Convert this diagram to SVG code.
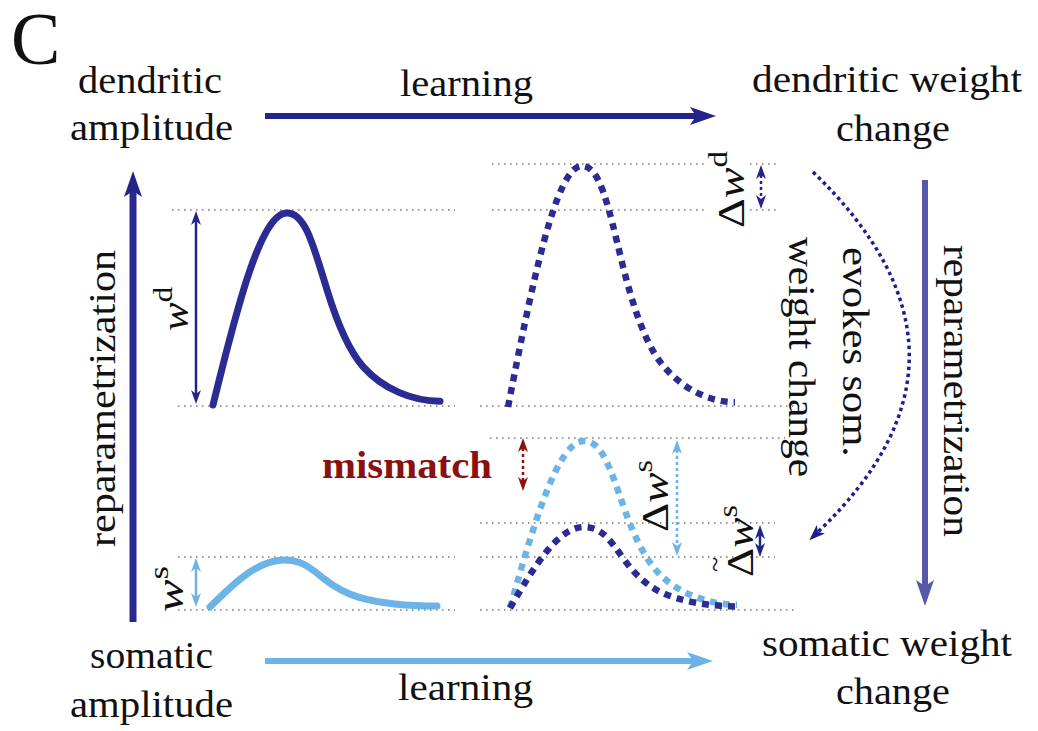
<svg xmlns="http://www.w3.org/2000/svg" width="1038" height="731" viewBox="0 0 1038 731">
<style>
text{font-family:"Liberation Serif","Times New Roman",serif;font-size:38px;fill:#111}
.grid{stroke:#7a7a7a;stroke-width:1.4;stroke-dasharray:1.5 4.5;fill:none}
.it{font-style:italic}
.sup{font-size:27px}
.solid{fill:none;stroke-width:7;stroke-linecap:round}
.dash{fill:none;stroke-width:6.5;stroke-dasharray:7 6}
.navy{stroke:#2b2b93}
.light{stroke:#6cb4e8}
</style>
<defs>
<marker id="hNavy" markerUnits="userSpaceOnUse" viewBox="0 0 26 20" markerWidth="26" markerHeight="20" refX="6" refY="10" orient="auto"><path d="M0,1 L26,10 L0,19 L6,10 z" fill="#23238c"/></marker>
<marker id="hLight" markerUnits="userSpaceOnUse" viewBox="0 0 26 20" markerWidth="26" markerHeight="20" refX="6" refY="10" orient="auto"><path d="M0,1 L26,10 L0,19 L6,10 z" fill="#6cb4e8"/></marker>
<marker id="hSlate" markerUnits="userSpaceOnUse" viewBox="0 0 26 20" markerWidth="26" markerHeight="20" refX="6" refY="10" orient="auto"><path d="M0,1 L26,10 L0,19 L6,10 z" fill="#5858a8"/></marker>
<marker id="hCurve" markerUnits="userSpaceOnUse" viewBox="0 0 16 12" markerWidth="16" markerHeight="12" refX="4" refY="6" orient="auto"><path d="M0,0 L16,6 L0,12 L4,6 z" fill="#1e1e8c"/></marker>
<marker id="sNavy" markerUnits="userSpaceOnUse" viewBox="0 0 14 10" markerWidth="14" markerHeight="10" refX="4" refY="5" orient="auto-start-reverse"><path d="M0,0 L14,5 L0,10 L4,5 z" fill="#23238c"/></marker>
<marker id="sLight" markerUnits="userSpaceOnUse" viewBox="0 0 14 10" markerWidth="14" markerHeight="10" refX="4" refY="5" orient="auto-start-reverse"><path d="M0,0 L14,5 L0,10 L4,5 z" fill="#6cb4e8"/></marker>
<marker id="sRed" markerUnits="userSpaceOnUse" viewBox="0 0 14 10" markerWidth="14" markerHeight="10" refX="4" refY="5" orient="auto-start-reverse"><path d="M0,0 L14,5 L0,10 L4,5 z" fill="#8b1010"/></marker>
</defs>

<g id="title"><text x="11" y="64" font-size="74" style="font-size:74px">C</text></g>

<g id="grid-lines">
<line class="grid" x1="492" y1="164" x2="707" y2="164"/>
<line class="grid" x1="750" y1="164" x2="780" y2="164"/>
<line class="grid" x1="172" y1="210" x2="455" y2="210"/>
<line class="grid" x1="492" y1="210" x2="705" y2="210"/>
<line class="grid" x1="750" y1="210" x2="780" y2="210"/>
<line class="grid" x1="178" y1="406" x2="455" y2="406"/>
<line class="grid" x1="480" y1="406" x2="800" y2="406"/>
<line class="grid" x1="490" y1="438" x2="785" y2="438"/>
<line class="grid" x1="480" y1="523" x2="775" y2="523"/>
<line class="grid" x1="178" y1="557" x2="455" y2="557"/>
<line class="grid" x1="480" y1="557" x2="775" y2="557"/>
<line class="grid" x1="178" y1="610" x2="455" y2="610"/>
<line class="grid" x1="480" y1="610" x2="795" y2="610"/>
</g>

<g id="node-dendritic-amplitude">
<text x="78" y="93" textLength="144" lengthAdjust="spacingAndGlyphs">dendritic</text>
<text x="70" y="140" textLength="163" lengthAdjust="spacingAndGlyphs">amplitude</text>
<path class="solid navy" d="M213,405 C237.4,305.5 261.1,213 287,213 C305,213 313,244.1 327,289.8 C339,329 351,353 363,366.6 C383,389.3 413,401.2 440,401.2"/>
<line x1="196" y1="221" x2="196" y2="394" stroke="#23238c" stroke-width="2.5" marker-start="url(#sNavy)" marker-end="url(#sNavy)"/>
<text transform="translate(188,331) rotate(-90)" textLength="44" lengthAdjust="spacingAndGlyphs"><tspan class="it">w</tspan><tspan class="sup" dy="-16">d</tspan></text>
</g>

<g id="node-somatic-amplitude">
<text x="90" y="668" textLength="123" lengthAdjust="spacingAndGlyphs">somatic</text>
<text x="70" y="717" textLength="163" lengthAdjust="spacingAndGlyphs">amplitude</text>
<path class="solid light" d="M210,607 C234.4,582.7 258.1,560 284,560 C302,560 310,567.6 324,578.8 C336,588.4 348,594.3 360,597.6 C380,603.1 410,606.1 437,606.1"/>
<line x1="196" y1="568" x2="196" y2="597" stroke="#6cb4e8" stroke-width="2.5" marker-start="url(#sLight)" marker-end="url(#sLight)"/>
<text transform="translate(183,612) rotate(-90)" textLength="46" lengthAdjust="spacingAndGlyphs"><tspan class="it">w</tspan><tspan class="sup" dy="-15">s</tspan></text>
</g>

<g id="node-dendritic-weight-change">
<text x="752" y="92" textLength="270" lengthAdjust="spacingAndGlyphs">dendritic weight</text>
<text x="836" y="141" textLength="114" lengthAdjust="spacingAndGlyphs">change</text>
<path class="dash navy" d="M508,407 C532.4,282.2 556.1,166 582,166 C600,166 608,205 622,262.4 C634,311.6 646,341.7 658,358.8 C678,387.2 708,402.2 735,402.2"/>
<line x1="761" y1="175" x2="761" y2="199" stroke="#23238c" stroke-width="2.5" stroke-dasharray="3 3" marker-start="url(#sNavy)" marker-end="url(#sNavy)"/>
<text transform="translate(744,228) rotate(-90)" textLength="77" lengthAdjust="spacingAndGlyphs">Δ<tspan class="it">w</tspan><tspan class="sup" dy="-17">d</tspan></text>
</g>

<g id="node-somatic-weight-change">
<text x="762" y="656" textLength="250" lengthAdjust="spacingAndGlyphs">somatic weight</text>
<text x="836" y="704" textLength="114" lengthAdjust="spacingAndGlyphs">change</text>
<path class="dash light" d="M510,608 C534.4,521.5 558.1,441 584,441 C602,441 610,468 624,507.8 C636,541.9 648,562.7 660,574.6 C680,594.3 710,604.7 737,604.7"/>
<path class="dash navy" d="M510,608 C534.4,566 558.1,527 584,527 C602,527 610,540.1 624,559.4 C636,575.9 648,586 660,591.8 C680,601.4 710,606.4 737,606.4"/>
<line x1="677" y1="450" x2="677" y2="546" stroke="#6cb4e8" stroke-width="2.5" stroke-dasharray="3 3" marker-start="url(#sLight)" marker-end="url(#sLight)"/>
<text transform="translate(668,532) rotate(-90)" textLength="72" lengthAdjust="spacingAndGlyphs">Δ<tspan class="it">w</tspan><tspan class="sup" dy="-16">s</tspan></text>
<line x1="760" y1="535" x2="760" y2="547" stroke="#23238c" stroke-width="2.5" marker-start="url(#sNavy)" marker-end="url(#sNavy)"/>
<text transform="translate(753,577) rotate(-90)" textLength="72" lengthAdjust="spacingAndGlyphs">Δ<tspan class="it">w</tspan><tspan class="sup" dy="-16">s</tspan></text>
<text transform="translate(753,577) rotate(-90)" x="5" y="-29" style="font-size:28px">~</text>
</g>

<g id="node-mismatch">
<text x="322" y="478" font-weight="bold" fill="#8b1010" style="fill:#8b1010;font-weight:bold" textLength="170" lengthAdjust="spacingAndGlyphs">mismatch</text>
<line x1="523" y1="448" x2="523" y2="481" stroke="#8b1010" stroke-width="2.5" stroke-dasharray="3 3" marker-start="url(#sRed)" marker-end="url(#sRed)"/>
</g>

<g id="connectors">
<path d="M265,116 H696" stroke="#23238c" stroke-width="6" fill="none" marker-end="url(#hNavy)"/>
<path d="M265,661 H693" stroke="#6cb4e8" stroke-width="6" fill="none" marker-end="url(#hLight)"/>
<path d="M133,622 V191" stroke="#2a2a8e" stroke-width="7" fill="none" marker-end="url(#hNavy)"/>
<path d="M925,180 V586" stroke="#5858a8" stroke-width="6" fill="none" marker-end="url(#hSlate)"/>
<path d="M813,172 Q1003,355 818,532" stroke="#1e1e8c" stroke-width="3.5" stroke-dasharray="3.5 3.5" fill="none" marker-end="url(#hCurve)"/>
</g>

<g id="connector-labels">
<text x="400" y="96" textLength="133" lengthAdjust="spacingAndGlyphs">learning</text>
<text x="398" y="700" textLength="135" lengthAdjust="spacingAndGlyphs">learning</text>
<text transform="translate(115,547) rotate(-90)" textLength="297" lengthAdjust="spacingAndGlyphs">reparametrization</text>
<text transform="translate(944,245) rotate(90)" textLength="292" lengthAdjust="spacingAndGlyphs">reparametrization</text>
<text transform="translate(843,247) rotate(90)" textLength="210" lengthAdjust="spacingAndGlyphs">evokes som.</text>
<text transform="translate(789,237) rotate(90)" textLength="240" lengthAdjust="spacingAndGlyphs">weight change</text>
</g>
</svg>
